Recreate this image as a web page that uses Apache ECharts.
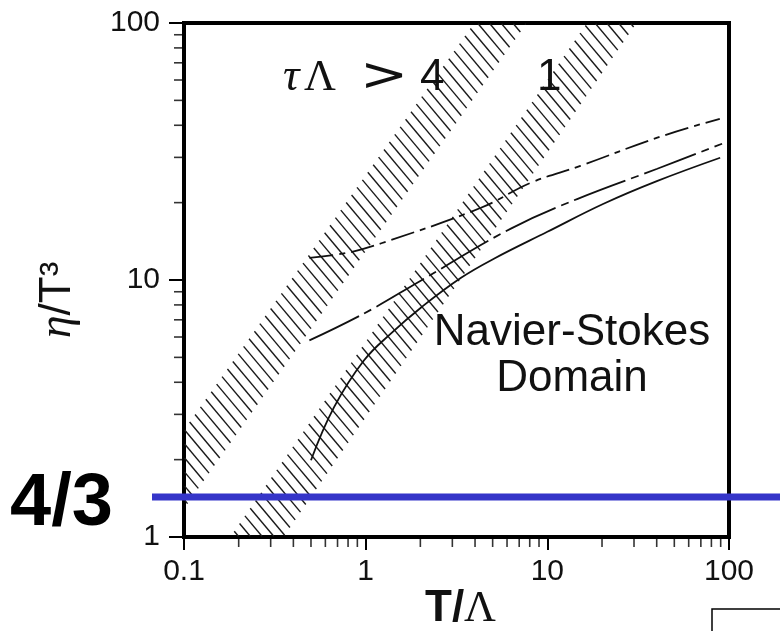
<!DOCTYPE html>
<html>
<head>
<meta charset="utf-8">
<title>eta/T^3 vs T/Lambda</title>
<script src="https://cdn.jsdelivr.net/npm/echarts@6/dist/echarts.min.js"></script>
<style>
html, body { margin: 0; padding: 0; background: #fff; }
#chart { width: 780px; height: 631px; }
</style>
</head>
<body>
<div id="chart"></div>
<script>
// axis ranges and ticks (log-log)
var xRange = [0.1, 100];
var yRange = [1, 100];
var xMinorTicks = [0.2, 0.3, 0.4, 0.5, 0.6, 0.7, 0.8, 0.9, 2, 3, 4, 5, 6, 7, 8, 9, 20, 30, 40, 50, 60, 70, 80, 90];
var yMinorTicks = [2, 3, 4, 5, 6, 7, 8, 9, 20, 30, 40, 50, 60, 70, 80, 90];

// hatched bands, corners as [T/Λ, η/T³]
var bandFour = [[0.1, 1.27], [7.82, 100], [3.9, 100], [0.1, 2.65]];
var bandOne = [[0.177, 1], [0.358, 1], [31.4, 100], [16.3, 100]];

// the three curves
var solidCurve = [[0.5, 1.99], [0.67, 3.2], [0.98, 4.87], [1.38, 6.2], [2.02, 7.82], [3.35, 10.2], [5.08, 12.1], [10, 15.4], [20.4, 19.8], [40.4, 24.3], [89.4, 29.9]];
var dashCurve = [[0.49, 5.82], [0.98, 7.41], [2.02, 9.96], [6.3, 15.85], [14.7, 20.7], [40.3, 27.1], [91.6, 33.9]];
var dashDotCurve = [[0.49, 12.2], [0.81, 12.8], [1.22, 13.9], [4.31, 19.1], [8.11, 23.9], [15.2, 27.8], [40.3, 35.8], [89, 42.4]];

// blue "4/3" level
var blueLevel = 1.43;

var myChart = echarts.init(document.getElementById('chart'));

// hatch lines "\\\" clipped to a convex polygon (pixel points)
function hatchLines(pts, step, angleDeg) {
  var a = angleDeg * Math.PI / 180;
  var dx = Math.cos(a), dy = Math.sin(a);
  var nx = -dy, ny = dx;
  var vals = pts.map(function (p) { return p[0] * nx + p[1] * ny; });
  var tMin = Math.min.apply(null, vals), tMax = Math.max.apply(null, vals);
  var out = [];
  for (var c = Math.ceil(tMin / step) * step; c < tMax; c += step) {
    var hits = [];
    for (var i = 0; i < pts.length; i++) {
      var p1 = pts[i], p2 = pts[(i + 1) % pts.length];
      var f1 = vals[i] - c, f2 = vals[(i + 1) % pts.length] - c;
      if ((f1 <= 0 && f2 > 0) || (f1 > 0 && f2 <= 0)) {
        var r = f1 / (f1 - f2);
        hits.push([p1[0] + (p2[0] - p1[0]) * r, p1[1] + (p2[1] - p1[1]) * r]);
      }
    }
    if (hits.length >= 2) {
      hits.sort(function (u, v) { return (u[0] * dx + u[1] * dy) - (v[0] * dx + v[1] * dy); });
      var s = hits[0], e = hits[hits.length - 1];
      out.push({
        type: 'line',
        shape: { x1: s[0] + dx, y1: s[1] + dy, x2: e[0] - dx, y2: e[1] - dy },
        style: { stroke: '#1a1a1a', lineWidth: 1.4 }
      });
    }
  }
  return out;
}

function bandSeries(corners) {
  return {
    type: 'custom',
    xAxisIndex: 0,
    yAxisIndex: 0,
    data: corners,
    silent: true,
    z: 1,
    renderItem: function (params, api) {
      if (params.dataIndex !== 0) return null;
      var pts = corners.map(function (p) { return api.coord(p); });
      return { type: 'group', children: hatchLines(pts, 9, 50) };
    }
  };
}

function curve(data, dash) {
  return {
    type: 'line',
    data: data,
    smooth: 0.4,
    symbol: 'none',
    silent: true,
    z: 3,
    lineStyle: { color: '#111', width: 1.8, type: dash }
  };
}

var sans = '"Liberation Sans", Arial, sans-serif';
var serif = '"Liberation Serif", "DejaVu Serif", serif';

var option = {
  animation: false,
  backgroundColor: '#fff',
  grid: [
    { left: 184, right: 51, top: 23, bottom: 94, show: true, borderColor: '#000', borderWidth: 4 },
    { left: 152, right: 0, top: 23, bottom: 94 }
  ],
  xAxis: [
    {
      type: 'log', logBase: 10, min: xRange[0], max: xRange[1], gridIndex: 0,
      axisLine: { show: true, lineStyle: { color: '#000', width: 3 } },
      axisTick: { show: true, length: 13, lineStyle: { color: '#000', width: 2 } },
      axisLabel: {
        fontSize: 30, fontFamily: sans, color: '#111', margin: 20,
        formatter: function (v) { return String(+v.toPrecision(3)); }
      },
      splitLine: { show: false }
    },
    { type: 'value', min: 0, max: 1, gridIndex: 1, show: false }
  ],
  yAxis: [
    {
      type: 'log', logBase: 10, min: yRange[0], max: yRange[1], gridIndex: 0,
      axisLine: { show: true, lineStyle: { color: '#000', width: 4 } },
      axisTick: { show: true, length: 15, lineStyle: { color: '#000', width: 2 } },
      axisLabel: {
        fontSize: 30, fontFamily: sans, color: '#111', margin: 24,
        formatter: function (v) { return String(+v.toPrecision(3)); }
      },
      splitLine: { show: false }
    },
    { type: 'log', logBase: 10, min: yRange[0], max: yRange[1], gridIndex: 1, show: false }
  ],
  series: [
    bandSeries(bandFour),
    bandSeries(bandOne),
    curve(solidCurve, 'solid'),
    curve(dashCurve, [55, 6, 8, 6]),
    curve(dashDotCurve, [24, 6, 6, 6]),
    {
      // minor ticks on the T/Λ axis
      type: 'scatter',
      data: xMinorTicks.map(function (v) { return [v, yRange[0]]; }),
      symbol: 'rect', symbolSize: [1.6, 10], symbolOffset: [0, 5],
      itemStyle: { color: '#000' }, silent: true, clip: false, z: 4
    },
    {
      // minor ticks on the η/T³ axis
      type: 'scatter',
      data: yMinorTicks.map(function (v) { return [xRange[0], v]; }),
      symbol: 'rect', symbolSize: [10, 1.6], symbolOffset: [-5, 0],
      itemStyle: { color: '#000' }, silent: true, clip: false, z: 4
    },
    {
      type: 'line',
      xAxisIndex: 1,
      yAxisIndex: 1,
      data: [[0, blueLevel], [1, blueLevel]],
      symbol: 'none',
      silent: true,
      z: 10,
      lineStyle: { color: '#3535c9', width: 7 }
    }
  ],
  graphic: [
    { type: 'text', x: 10, y: 505, z: 20, style: { text: '4/3', font: 'bold 74px ' + sans, fill: '#000', textAlign: 'left', textVerticalAlign: 'middle' } },
    { type: 'text', x: 283, y: 78, z: 20, style: { text: 'τ', font: 'italic 46px ' + serif, fill: '#111', textVerticalAlign: 'middle' } },
    { type: 'text', x: 304, y: 78, z: 20, style: { text: 'Λ', font: '44px ' + serif, fill: '#111', textVerticalAlign: 'middle' } },
    { type: 'text', x: 360, y: 78, scaleX: 1.25, z: 20, style: { text: '>', font: '46px "DejaVu Sans", sans-serif', fill: '#111', textVerticalAlign: 'middle' } },
    { type: 'text', x: 420, y: 78, z: 20, style: { text: '4', font: '44px ' + sans, fill: '#111', textVerticalAlign: 'middle' } },
    { type: 'text', x: 537, y: 78, z: 20, style: { text: '1', font: '44px ' + sans, fill: '#111', textVerticalAlign: 'middle' } },
    { type: 'text', x: 572, y: 333, z: 20, style: { text: 'Navier-Stokes', font: '44px ' + sans, fill: '#111', textAlign: 'center', textVerticalAlign: 'middle' } },
    { type: 'text', x: 572, y: 379, z: 20, style: { text: 'Domain', font: '44px ' + sans, fill: '#111', textAlign: 'center', textVerticalAlign: 'middle' } },
    {
      type: 'text', x: 425, y: 609, z: 20,
      style: {
        text: '{a|T/}{b|Λ}', textVerticalAlign: 'middle',
        rich: { a: { font: 'bold 44px ' + sans, fill: '#111' }, b: { font: '44px ' + serif, fill: '#111' } }
      }
    },
    {
      type: 'text', x: 58, y: 300, rotation: Math.PI / 2, z: 20,
      style: {
        text: '{e|η}{a|/T³}', textAlign: 'center', textVerticalAlign: 'middle',
        rich: { e: { font: 'italic 46px ' + serif, fill: '#111' }, a: { font: '44px ' + sans, fill: '#111' } }
      }
    },
    { type: 'rect', z: 20, shape: { x: 712, y: 609, width: 120, height: 60 }, style: { fill: 'none', stroke: '#000', lineWidth: 1.5 } }
  ]
};

myChart.setOption(option);
</script>
</body>
</html>
